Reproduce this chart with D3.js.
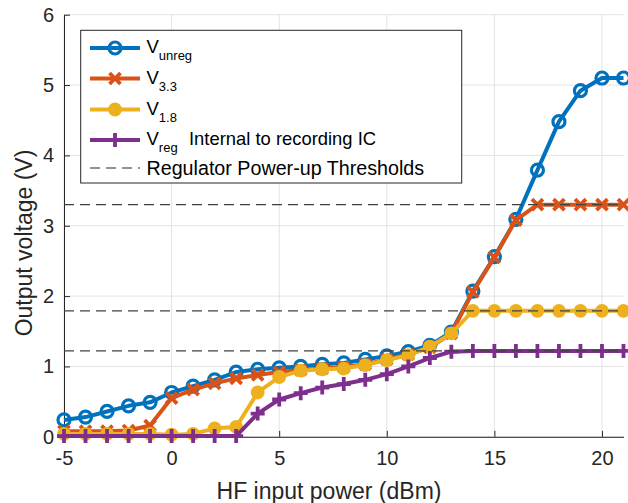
<!DOCTYPE html>
<html>
<head>
<meta charset="utf-8">
<script src="https://cdn.jsdelivr.net/npm/d3@7"></script>
<style>
  body { margin: 0; background: #fff; }
  svg { display: block; font-family: "Liberation Sans", Arial, sans-serif; }
</style>
</head>
<body>
<svg id="chart" width="628" height="503"></svg>
<script>
// ---- data ----
const inputPower = [-5,-4,-3,-2,-1,0,1,2,3,4,5,6,7,8,9,10,11,12,13,14,15,16,17,18,19,20,21];
const vUnreg = [0.24,0.28,0.36,0.44,0.49,0.63,0.72,0.81,0.92,0.96,0.98,1.00,1.03,1.05,1.10,1.15,1.21,1.30,1.49,2.07,2.56,3.09,3.79,4.48,4.92,5.10,5.10];
const v33    = [0.08,0.08,0.08,0.09,0.16,0.55,0.67,0.76,0.83,0.88,0.92,0.95,0.97,0.99,1.03,1.10,1.17,1.27,1.47,2.06,2.55,3.08,3.30,3.30,3.30,3.30,3.30];
const v18    = [0.04,0.04,0.04,0.04,0.04,0.03,0.04,0.12,0.14,0.63,0.85,0.94,0.96,0.97,1.02,1.09,1.16,1.28,1.47,1.79,1.79,1.79,1.79,1.79,1.79,1.79,1.79];
const vReg   = [0.01,0.01,0.01,0.01,0.01,0.01,0.01,0.01,0.01,0.33,0.53,0.62,0.70,0.75,0.81,0.89,1.00,1.12,1.21,1.22,1.22,1.22,1.22,1.22,1.22,1.22,1.22];
const thresholds = [3.3, 1.79, 1.22];

const xTicks = [-5, 0, 5, 10, 15, 20];
const yTicks = [0, 1, 2, 3, 4, 5, 6];

const seriesNames = ["unreg", "3.3", "1.8", "reg"];
const seriesColors = ["#0072BD", "#D95319", "#EDB120", "#7E2F8E"];
const seriesMarkers = ["circle", "x", "dot", "plus"];

// ---- layout ----
const svg = d3.select("#chart");
const padL = 64, padR = 623.5, padT = 14.7, padB = 436.8;
const ink = "#262626";

const x = d3.scaleLinear().domain([-5, 21]).range([padL, padR]);
const y = d3.scaleLinear().domain([0, 6]).range([padB, padT]);

// grid
const grid = svg.append("g").attr("stroke", "#e3e3e3").attr("stroke-width", 1);
grid.selectAll(".gx").data(xTicks).join("line")
  .attr("x1", d => x(d)).attr("x2", d => x(d)).attr("y1", padT).attr("y2", padB);
grid.selectAll(".gy").data(yTicks).join("line")
  .attr("x1", padL).attr("x2", padR).attr("y1", d => y(d)).attr("y2", d => y(d));

// axes (ticks inward, like matlab)
const plain = d => String(d);
const xAxis = svg.append("g")
  .attr("transform", "translate(0," + padB + ")")
  .call(d3.axisBottom(x).tickValues(xTicks).tickFormat(plain).tickSizeInner(-6).tickSizeOuter(0).tickPadding(14));
const yAxis = svg.append("g")
  .attr("transform", "translate(" + padL + ",0)")
  .call(d3.axisLeft(y).tickValues(yTicks).tickFormat(plain).tickSizeInner(-6).tickSizeOuter(0).tickPadding(10));
[xAxis, yAxis].forEach(a => {
  a.select(".domain").attr("stroke", ink);
  a.selectAll(".tick line").attr("stroke", ink);
  a.selectAll("text").attr("fill", ink).style("font-size", "20px")
    .style("font-family", "'Liberation Sans', Arial, sans-serif");
});
xAxis.selectAll("text").attr("dy", "0.71em");

svg.append("text")
  .attr("x", (padL + 602) / 2 - 4).attr("y", 499)
  .attr("text-anchor", "middle").attr("fill", ink).style("font-size", "23px")
  .text("HF input power (dBm)");
svg.append("text")
  .attr("transform", "translate(32,243) rotate(-90)")
  .attr("text-anchor", "middle").attr("fill", ink).style("font-size", "23px")
  .text("Output voltage (V)");

// ---- series ----
function drawMarker(g, type, color) {
  if (type === "circle") {
    g.append("circle").attr("r", 6).attr("fill", "none").attr("stroke", color).attr("stroke-width", 3.2);
  } else if (type === "dot") {
    g.append("circle").attr("r", 6).attr("fill", color).attr("stroke", color).attr("stroke-width", 1.8);
  } else if (type === "x") {
    g.append("path").attr("d", "M-5.5,-5.5L5.5,5.5M-5.5,5.5L5.5,-5.5").attr("stroke", color).attr("stroke-width", 3.8);
  } else {
    g.append("path").attr("d", "M-7,0L7,0M0,-7L0,7").attr("stroke", color).attr("stroke-width", 3.8);
  }
}

const allSeries = [vUnreg, v33, v18, vReg];
const line = d3.line().x((d, i) => x(inputPower[i])).y(d => y(d));

allSeries.forEach((vals, k) => {
  const g = svg.append("g");
  g.append("path").datum(vals)
    .attr("d", line).attr("fill", "none")
    .attr("stroke", seriesColors[k]).attr("stroke-width", 4).attr("stroke-linejoin", "round");
  vals.forEach((v, i) => {
    const m = g.append("g").attr("transform", "translate(" + x(inputPower[i]) + "," + y(v) + ")");
    drawMarker(m, seriesMarkers[k], seriesColors[k]);
  });
});

// regulator thresholds
svg.append("g").selectAll("line").data(thresholds).join("line")
  .attr("x1", padL).attr("x2", padR)
  .attr("y1", d => y(d)).attr("y2", d => y(d))
  .attr("stroke", "#404040").attr("stroke-width", 1.2).attr("stroke-dasharray", "10,6");

// ---- legend ----
const lg = svg.append("g");
lg.append("rect").attr("x", 80.7).attr("y", 30.3).attr("width", 381).attr("height", 152.7)
  .attr("fill", "#fff").attr("stroke", ink).attr("stroke-width", 1);

const rowBase = [53, 83.5, 114.5, 145, 175];
seriesNames.forEach((name, k) => {
  const cy = rowBase[k] - 5;
  lg.append("line").attr("x1", 90).attr("x2", 140).attr("y1", cy).attr("y2", cy)
    .attr("stroke", seriesColors[k]).attr("stroke-width", 4);
  drawMarker(lg.append("g").attr("transform", "translate(115," + cy + ")"), seriesMarkers[k], seriesColors[k]);
  const t = lg.append("text").attr("x", 146.5).attr("y", rowBase[k]).attr("fill", "#000").style("font-size", "18.5px");
  t.append("tspan").text("V");
  t.append("tspan").attr("dy", 7.3).style("font-size", "13px").text(name);
});
lg.append("text").attr("x", 189).attr("y", rowBase[3]).attr("fill", "#000").style("font-size", "18.4px")
  .text("Internal to recording IC");
lg.append("line").attr("x1", 90).attr("x2", 140).attr("y1", rowBase[4] - 7).attr("y2", rowBase[4] - 7)
  .attr("stroke", "#262626").attr("stroke-width", 1.2).attr("stroke-dasharray", "10,6");
lg.append("text").attr("x", 146.5).attr("y", rowBase[4]).attr("fill", "#000").style("font-size", "19.7px")
  .text("Regulator Power-up Thresholds");
</script>
</body>
</html>
